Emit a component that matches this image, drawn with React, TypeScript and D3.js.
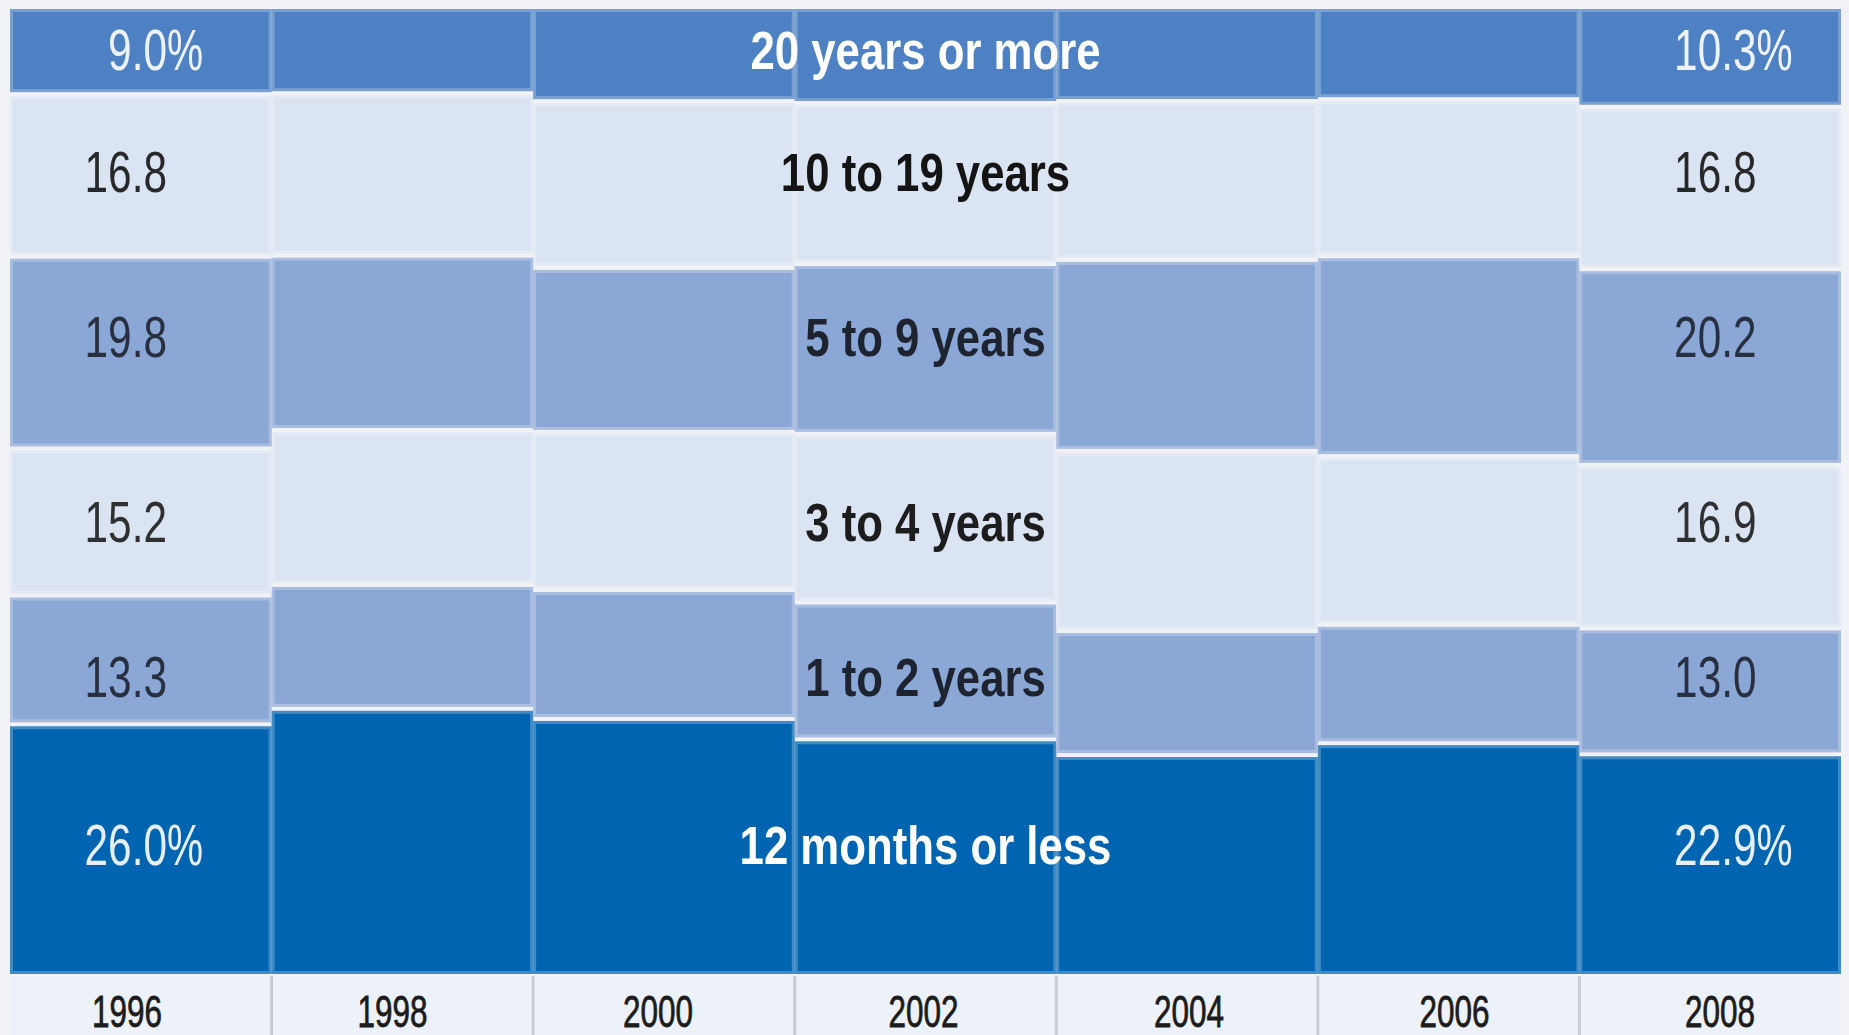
import React from 'react';
import * as d3 from 'd3';

// Job tenure shares by year (percent of workers)
const years = ['1996', '1998', '2000', '2002', '2004', '2006', '2008'];
const seriesNames = [
  '12 months or less',
  '1 to 2 years',
  '3 to 4 years',
  '5 to 9 years',
  '10 to 19 years',
  '20 years or more',
];
const monthsOrLess = [26.0, 27.6, 26.5, 24.4, 22.8, 24.0, 22.9];
const oneToTwo = [13.3, 12.8, 13.3, 14.1, 12.8, 12.2, 13.0];
const threeToFour = [15.2, 16.0, 16.3, 17.4, 18.6, 17.4, 16.9];
const fiveToNine = [19.8, 18.0, 16.9, 17.5, 19.7, 20.6, 20.2];
const tenToNineteen = [16.8, 16.8, 17.2, 16.6, 16.4, 16.2, 16.8];
const twentyPlus = [9.0, 8.9, 9.7, 9.9, 9.7, 9.5, 10.3];
// height (percent from the bottom) where each row's text sits
const labelLevels = [13.6, 30.9, 46.9, 66.0, 83.0, 95.6];

const W = 1849;
const H = 1035;
const LEFT = 10;
const RIGHT = 1841;
const TOP = 7;
const BOTTOM = 976;
const GAP = 2;

const FILLS = ['#0064b1', '#8ba7d6', '#dbe4f2', '#8ba7d6', '#dbe4f2', '#4d81c3'];
const INKS = ['#ffffff', '#1e2330', '#1d1d1d', '#1e2330', '#141414', '#ffffff'];
const FONT = "'Liberation Sans', Arial, sans-serif";

const columns = [monthsOrLess, oneToTwo, threeToFour, fiveToNine, tenToNineteen, twentyPlus];
const keys = seriesNames;

const table = years.map((year, i) => {
  const row: Record<string, any> = { year };
  keys.forEach((k, j) => (row[k] = columns[j][i]));
  return row;
});

export default function App() {
  const x = d3.scaleBand<string>().domain(years).range([LEFT, RIGHT]).padding(0);
  const y = d3.scaleLinear().domain([0, 1]).range([BOTTOM, TOP]);
  const yearPos = d3.scalePoint<string>().domain(years).range([127, 1720]);

  const stacked = d3
    .stack<Record<string, any>>()
    .keys(keys)
    .offset(d3.stackOffsetExpand)(table);

  const bw = x.bandwidth();
  const first = years[0];
  const last = years[years.length - 1];
  const mid = years[Math.floor(years.length / 2)];

  // numbers are right aligned, the % hangs after them
  const numRight = (yr: string) => x(yr)! + bw * (yr === first ? 0.6 : 0.677);

  return (
    <svg
      width={W}
      height={H}
      style={{ position: 'absolute', left: 0, top: 0, display: 'block' }}
      fontFamily={FONT}
    >
      <rect width={W} height={H} fill="#f1f2f5" />

      {stacked.map((layer, si) => (
        <g key={layer.key}>
          {layer.map((d, i) => {
            const yr = years[i];
            const x0 = x(yr)!;
            const top = y(d[1]) + GAP;
            const h = y(d[0]) - y(d[1]) - GAP * 2;
            return (
              <g key={yr}>
                <rect x={x0} y={top} width={bw} height={h} fill={FILLS[si]} />
                <rect
                  x={x0 + 1.5}
                  y={top + 1.5}
                  width={bw - 3}
                  height={h - 3}
                  fill="none"
                  stroke="#ffffff"
                  strokeOpacity={0.25}
                  strokeWidth={3}
                />
              </g>
            );
          })}
        </g>
      ))}

      {/* first and last year values */}
      {seriesNames.map((name, si) => {
        const base = y(labelLevels[si] / 100) + 20.5;
        const pct = si === 0 || si === seriesNames.length - 1;
        return [first, last].map((yr) => {
          const v = columns[si][years.indexOf(yr)];
          const xr = numRight(yr);
          return (
            <g key={name + yr} fill={INKS[si]} fontSize={58} opacity={0.9}>
              <text transform={`translate(${xr},${base}) scale(0.73,1)`} textAnchor="end">
                {v.toFixed(1)}
              </text>
              {pct && (
                <text transform={`translate(${xr},${base}) scale(0.7,1)`} textAnchor="start">
                  %
                </text>
              )}
            </g>
          );
        });
      })}

      {/* row names in the middle column */}
      {seriesNames.map((name, si) => (
        <text
          key={name}
          transform={`translate(${x(mid)! + bw / 2},${y(labelLevels[si] / 100) + 19.5}) scale(0.81,1)`}
          textAnchor="middle"
          fontSize={54}
          fontWeight="bold"
          fill={INKS[si]}
        >
          {name}
        </text>
      ))}

      {/* year strip */}
      <rect x={LEFT} y={BOTTOM} width={RIGHT - LEFT} height={H - BOTTOM} fill="#edf1f9" />
      {years.slice(1).map((yr) => (
        <line
          key={'sep' + yr}
          x1={x(yr)!}
          x2={x(yr)!}
          y1={BOTTOM}
          y2={H}
          stroke="#c9cbd1"
          strokeWidth={3}
        />
      ))}
      {years.map((yr) => (
        <text
          key={'yr' + yr}
          transform={`translate(${yearPos(yr)},1027) scale(0.7,1)`}
          textAnchor="middle"
          fontSize={45}
          fill="#1c1c1c"
          stroke="#1c1c1c"
          strokeWidth={0.8}
        >
          {yr}
        </text>
      ))}
    </svg>
  );
}
